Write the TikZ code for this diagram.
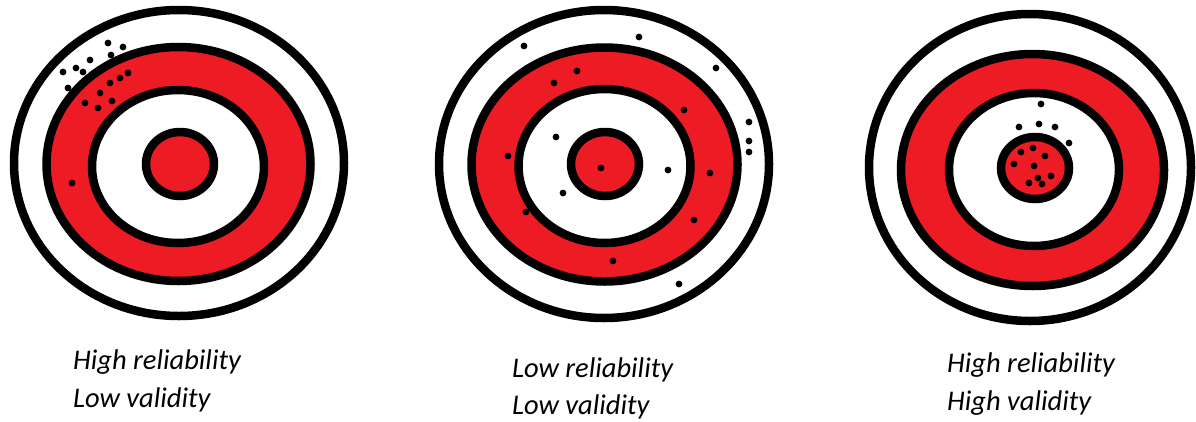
\documentclass[tikz,border=0pt]{standalone}
\usepackage{fontspec}
\setmainfont{Carlito}
\definecolor{tred}{HTML}{ED1C24}
\begin{document}
\begin{tikzpicture}[x=1pt,y=-1pt,
  ring/.style={draw=black,line width=8.5pt},
  dot/.style={fill=black},
  lbl/.style={anchor=base west,inner sep=0pt,font=\fontsize{28.5}{32}\selectfont\itshape}]
\useasboundingbox (0,0) rectangle (1196,421);
% target 1
\fill[tred] (178.5,164) ellipse [x radius=132pt,y radius=117pt];
\fill[white] (178,166.5) ellipse [x radius=86pt,y radius=76.5pt];
\fill[tred] (180,164) ellipse [x radius=34pt,y radius=32pt];
\draw[ring] (179,163) ellipse [x radius=165pt,y radius=153pt];
\draw[ring] (178.5,164) ellipse [x radius=132pt,y radius=117pt];
\draw[ring] (178,166.5) ellipse [x radius=86pt,y radius=76.5pt];
\draw[ring] (180,164) ellipse [x radius=34pt,y radius=32pt];
\foreach \p in {(108,43),(123,47),(90,60),(76,68),(63,72),(83,72),(68,88),(111,55),(128,73),(120,78),(110,83),(100,93),(85,103),(98,108),(112,101),(72,183)}
  \fill[dot] \p circle (3.4pt);
% target 2
\fill[tred] (604.5,164.5) ellipse [x radius=133pt,y radius=117pt];
\fill[white] (604.5,166) ellipse [x radius=86pt,y radius=77pt];
\fill[tred] (605,164) ellipse [x radius=34pt,y radius=32pt];
\draw[ring] (604,164) ellipse [x radius=165pt,y radius=154pt];
\draw[ring] (604.5,164.5) ellipse [x radius=133pt,y radius=117pt];
\draw[ring] (604.5,166) ellipse [x radius=86pt,y radius=77pt];
\draw[ring] (605,164) ellipse [x radius=34pt,y radius=32pt];
\foreach \p in {(524,46),(639,37),(716,68),(577,71),(554,83),(684,110),(749,122),(749,141),(749,152),(556,137),(508,156),(601,168),(668,170),(710,173),(563,193),(526,212),(694,220),(613,261),(679,284)}
  \fill[dot] \p circle (3.4pt);
% target 3
\fill[tred] (1032.5,170) ellipse [x radius=131.5pt,y radius=116pt];
\fill[white] (1034,169.5) ellipse [x radius=85pt,y radius=76.5pt];
\fill[tred] (1035,168) ellipse [x radius=34pt,y radius=31pt];
\draw[ring] (1030,167.5) ellipse [x radius=161pt,y radius=153.5pt];
\draw[ring] (1032.5,170) ellipse [x radius=131.5pt,y radius=116pt];
\draw[ring] (1034,169.5) ellipse [x radius=85pt,y radius=76.5pt];
\draw[ring] (1035,168) ellipse [x radius=34pt,y radius=31pt];
\foreach \p in {(1041,104),(1019,127),(1039,124),(1055,127),(1069,143),(1021,152),(1033,148),(1045,156),(1014,164),(1034,166),(1051,176),(1029,183),(1038,178),(1042,184)}
  \fill[dot] \p circle (3.4pt);
% labels
\node[lbl] (l1a) at (73,369) {High reliability};
\node[lbl] (l1b) at (73,407) {Low validity};
\node[lbl] (l2a) at (512,377) {Low reliability};
\node[lbl] (l2b) at (512,414) {Low validity};
\node[lbl] (l3a) at (947,372) {High reliability};
\node[lbl] (l3b) at (947,410) {High validity};
\end{tikzpicture}
\end{document}
